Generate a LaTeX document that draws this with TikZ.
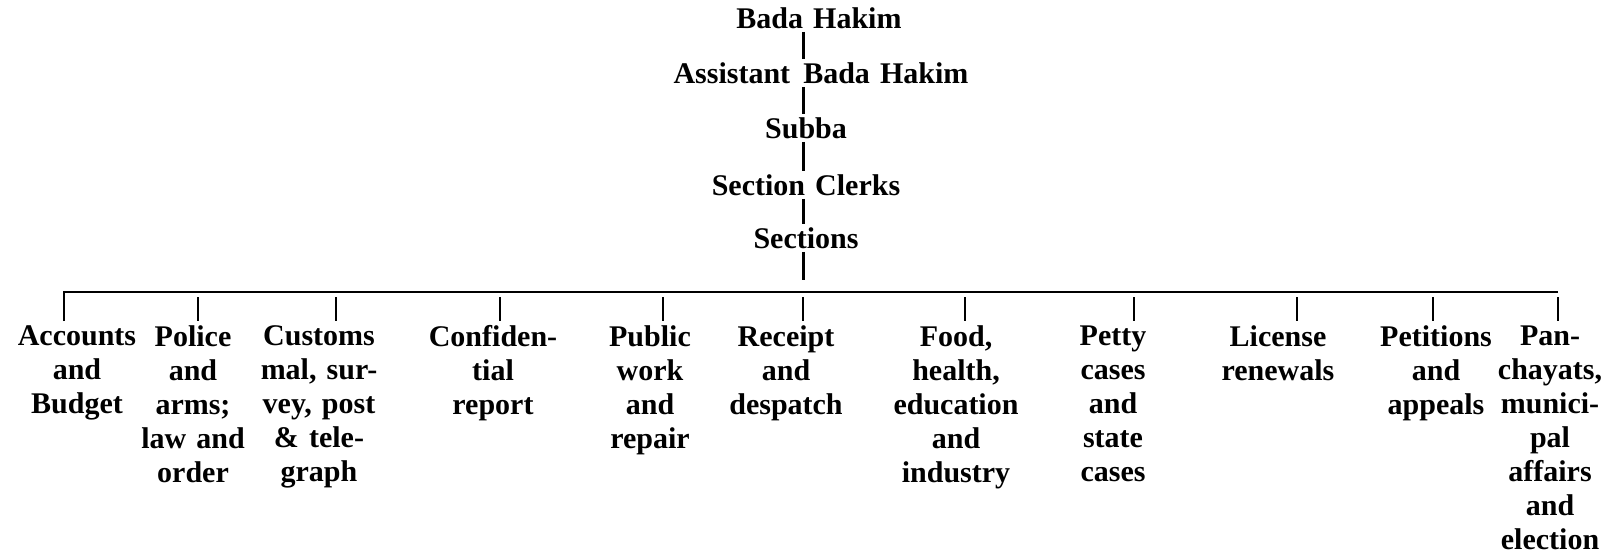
\documentclass[tikz,border=0pt]{standalone}
\usepackage{fontspec}
\setmainfont{Liberation Serif}[WordSpace=1.35]
\usepackage{tikz}
\newcommand{\chartfont}{\fontsize{15}{17}\selectfont\bfseries}
\tikzstyle{rank} = [inner xsep=0pt, inner ysep=1.5pt, text centered, font=\chartfont]
\tikzstyle{section} = [align=center, anchor=north, inner xsep=0pt, inner ysep=2pt, font=\chartfont]
\tikzstyle{trunk} = [line width=1.5pt]
\tikzstyle{bus} = [line width=1.1pt]
\tikzstyle{tick} = [line width=1.2pt, shorten <=2.5pt]

\begin{document}
\begin{tikzpicture}[x=0.5pt, y=-0.5pt, node distance=27.5pt]
    \useasboundingbox (0,0) rectangle (1621,556);
    \node (bada) [rank] at (819,18) {Bada Hakim};
    \node (asst) [rank, below of=bada, xshift=+1pt] {Assistant\hspace{1.5pt} Bada Hakim};
    \node (subba) [rank, below of=asst, xshift=-7.5pt] {Subba};
    \node (clerks) [rank, below of=subba, yshift=-1pt] {Section Clerks};
    \node (sections) [rank, below of=clerks, yshift=+1pt] {Sections};

    \node (acc) [section] at (77,321) {Accounts\\and\\Budget};
    \node (police) [section] at (193,321) {Police\\and\\arms;\\law and\\order};
    \node (customs) [section] at (319,321) {Customs\\mal, sur-\\vey, post\\\& tele-\\graph};
    \node (conf) [section] at (493,321) {Confiden-\\tial\\report};
    \node (works) [section] at (650,321) {Public\\work\\and\\repair};
    \node (receipt) [section] at (786,321) {Receipt\\and\\despatch};
    \node (food) [section] at (956,321) {Food,\\health,\\education\\and\\industry};
    \node (petty) [section] at (1113,321) {Petty\\cases\\and\\state\\cases};
    \node (license) [section] at (1278,321) {License\\renewals};
    \node (petition) [section] at (1436,321) {Petitions\\and\\appeals};
    \node (panch) [section] at (1550,321) {Pan-\\chayats,\\munici-\\pal\\affairs\\and\\election};

    \coordinate (axis) at (803,0);
    \coordinate (b1) at (64,292);
    \coordinate (b2) at (198,292);
    \coordinate (b3) at (336,292);
    \coordinate (b4) at (500,292);
    \coordinate (b5) at (663,292);
    \coordinate (b6) at (803,292);
    \coordinate (b7) at (965,292);
    \coordinate (b8) at (1134,292);
    \coordinate (b9) at (1297,292);
    \coordinate (b10) at (1433,292);
    \coordinate (b11) at (1558,292);

    \draw [trunk] (axis |- bada.south) -- (axis |- asst.north);
    \draw [trunk] (axis |- asst.south) -- (axis |- subba.north);
    \draw [trunk] (axis |- subba.south) -- (axis |- clerks.north);
    \draw [trunk] (axis |- clerks.south) -- (axis |- sections.north);
    \draw [trunk, shorten >=6pt] (axis |- sections.south) -- (b6);
    \draw [bus] (b1 |- acc.north) -- (b1) -- (b11);
    \draw [tick] (b2) -- (b2 |- police.north);
    \draw [tick] (b3) -- (b3 |- customs.north);
    \draw [tick] (b4) -- (b4 |- conf.north);
    \draw [tick] (b5) -- (b5 |- works.north);
    \draw [tick] (b6) -- (b6 |- receipt.north);
    \draw [tick] (b7) -- (b7 |- food.north);
    \draw [tick] (b8) -- (b8 |- petty.north);
    \draw [tick] (b9) -- (b9 |- license.north);
    \draw [tick] (b10) -- (b10 |- petition.north);
    \draw [tick] (b11) -- (b11 |- panch.north);
\end{tikzpicture}
\end{document}
